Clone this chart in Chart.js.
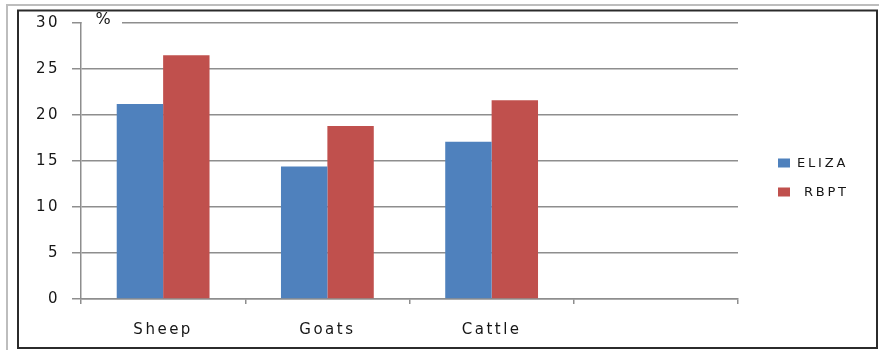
<!DOCTYPE html>
<html>
<head>
<meta charset="utf-8">
<title>ELIZA / RBPT</title>
<script src="https://cdn.jsdelivr.net/npm/chart.js@4/dist/chart.umd.min.js"></script>
<style>
  html, body { margin: 0; padding: 0; background: #fff; }
  #wrap { position: relative; width: 879px; height: 350px; }
</style>
</head>
<body>
<div id="wrap"><canvas id="c" width="879" height="350"></canvas></div>
<script>
// Seropositivity by species and test (%)
const categories = ['Sheep', 'Goats', 'Cattle', ''];
const elizaValues = [21.2, 14.4, 17.1, null];
const rbptValues = [26.5, 18.8, 21.6, null];
const yTicks = [0, 5, 10, 15, 20, 25, 30];
const seriesNames = ['ELIZA', ' RBPT'];
const unitLabel = '%';

const BLUE = '#4F81BD';
const RED = '#C0504D';
const GRID = '#8e8e8e';
const TEXT = '#161616';
const FONT = 'DejaVu Sans';

// Frame, the "%" unit label and the legend box on the right
const decorations = {
  id: 'decorations',
  beforeDraw(chart) {
    const ctx = chart.ctx;
    ctx.save();
    ctx.fillStyle = '#fff';
    ctx.fillRect(0, 0, chart.width, chart.height);
    ctx.restore();
  },
  afterDraw(chart) {
    const ctx = chart.ctx;
    const area = chart.chartArea;
    ctx.save();
    // outer light frame
    ctx.strokeStyle = '#bdbdbd';
    ctx.lineWidth = 2;
    ctx.beginPath();
    ctx.moveTo(7, 352);
    ctx.lineTo(7, 5);
    ctx.lineTo(881, 5);
    ctx.stroke();
    // inner dark frame
    ctx.strokeStyle = '#2b2b2b';
    ctx.lineWidth = 2;
    ctx.strokeRect(18, 10.5, 859, 337.5);

    // unit label sitting on the top gridline
    ctx.fillStyle = '#fff';
    ctx.fillRect(area.left + 1, area.top - 5, 40, 10);
    ctx.fillStyle = TEXT;
    ctx.font = '16px "' + FONT + '"';
    ctx.letterSpacing = '0px';
    ctx.textAlign = 'center';
    ctx.textBaseline = 'middle';
    ctx.fillText(unitLabel, 103, 20);

    // legend
    ctx.textAlign = 'left';
    ctx.font = '13px "' + FONT + '"';
    ctx.letterSpacing = '2.8px';
    const rows = [163, 192];
    chart.data.datasets.forEach((ds, i) => {
      ctx.fillStyle = ds.backgroundColor;
      ctx.fillRect(778, rows[i] - 4.5, 12, 9);
      ctx.fillStyle = TEXT;
      ctx.fillText(ds.label, 797, rows[i] + 0.5);
    });
    ctx.restore();
  }
};

const spacedText = {
  id: 'spacedText',
  beforeDraw(chart) { chart.ctx.letterSpacing = '2.5px'; }
};

new Chart(document.getElementById('c'), {
  type: 'bar',
  data: {
    labels: categories,
    datasets: [
      { label: seriesNames[0], data: elizaValues, backgroundColor: BLUE, borderWidth: 0 },
      { label: seriesNames[1], data: rbptValues, backgroundColor: RED, borderWidth: 0 }
    ]
  },
  options: {
    responsive: false,
    animation: false,
    devicePixelRatio: 1,
    layout: { padding: { left: 0, top: 23, right: 141, bottom: 0 } },
    plugins: {
      legend: { display: false },
      tooltip: { enabled: false }
    },
    datasets: {
      bar: { barPercentage: 1, categoryPercentage: 0.565 }
    },
    scales: {
      x: {
        grid: {
          offset: true,
          drawOnChartArea: false,
          drawTicks: true,
          tickLength: 5,
          color: GRID,
          lineWidth: 1.5
        },
        border: { display: true, color: GRID, width: 1.5 },
        ticks: {
          color: TEXT,
          font: { family: FONT, size: 15 },
          padding: 17,
          maxRotation: 0,
          autoSkip: false
        },
        afterFit(scale) { scale.height = 51; }
      },
      y: {
        min: 0,
        max: 30,
        afterBuildTicks(scale) { scale.ticks = yTicks.map(v => ({ value: v })); },
        grid: {
          color: GRID,
          lineWidth: 1.5,
          drawTicks: true,
          tickLength: 9
        },
        border: { display: true, color: GRID, width: 1.5 },
        ticks: {
          color: TEXT,
          font: { family: FONT, size: 15 },
          padding: 12
        },
        afterFit(scale) { scale.width = 81; }
      }
    }
  },
  plugins: [decorations, spacedText]
});
</script>
</body>
</html>
